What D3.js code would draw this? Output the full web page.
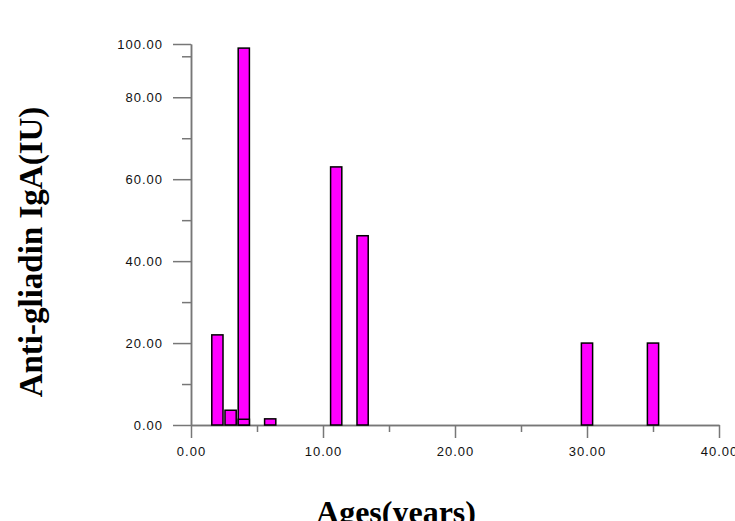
<!DOCTYPE html>
<html lang="en">
<head>
<meta charset="UTF-8"/>
<title>Anti-gliadin IgA by age</title>
<script src="https://d3js.org/d3.v7.min.js"></script>
<style>
    body { margin: 0; background: #fff; }
    .tick text { font-family: "Liberation Sans", Arial, sans-serif; font-size: 13px; letter-spacing: 1px; fill: #111; }
    .axis path, .axis line { stroke: #777; stroke-width: 1.5px; }
    .title { font-family: "Liberation Serif", "Times New Roman", serif; font-weight: bold; fill: #000; }
</style>
</head>
<body>
<svg width="735" height="521"></svg>
<script>
// data (drawn in this order, so small bars sit on top)
const ages   = [2, 3, 4, 4, 6, 11, 13, 30, 35];
const values = [22, 3.6, 92, 1.4, 1.5, 63, 46.2, 20, 20];

const xMajor = [0, 10, 20, 30, 40];
const xMinor = [5, 15, 25, 35];
const xLabels = ["0.00", "10.00", "20.00", "30.00", "40.00"];

const yTop = 93;   // axis ends here, but the top label reads 100.00
const yMajor = [0, 20, 40, 60, 80, yTop];
const yMinor = [10, 30, 50, 70, 90];
const yLabels = ["0.00", "20.00", "40.00", "60.00", "80.00", "100.00"];

const barWidth = 0.85;

let svg = d3.select("svg");

let x = d3.scaleLinear().domain([0, 40]).range([191, 719]);
let y = d3.scaleLinear().domain([0, yTop]).range([425, 44]);

// y axis
svg.append("g").attr("class", "axis")
    .attr("transform", "translate(" + x(0) + ",0)")
    .call(d3.axisLeft(y).tickValues(yMinor).tickSize(9).tickSizeOuter(0).tickFormat(""));
svg.append("g").attr("class", "axis")
    .attr("transform", "translate(" + x(0) + ",0)")
    .call(d3.axisLeft(y).tickValues(yMajor).tickSize(18).tickSizeOuter(0).tickPadding(10)
        .tickFormat((d, i) => yLabels[i]));

// x axis
svg.append("g").attr("class", "axis")
    .attr("transform", "translate(0," + y(0) + ")")
    .call(d3.axisBottom(x).tickValues(xMinor).tickSize(7).tickSizeOuter(0).tickFormat(""));
svg.append("g").attr("class", "axis")
    .attr("transform", "translate(0," + y(0) + ")")
    .call(d3.axisBottom(x).tickValues(xMajor).tickSize(13).tickSizeOuter(0).tickPadding(9)
        .tickFormat((d, i) => xLabels[i]));

svg.selectAll(".axis .domain").attr("stroke", "#777");

// bars
svg.append("g").selectAll("rect")
    .data(ages.map((a, i) => ({age: a, value: values[i]})))
    .enter().append("rect")
    .attr("x", d => x(d.age - barWidth / 2))
    .attr("width", x(barWidth) - x(0))
    .attr("y", d => y(d.value))
    .attr("height", d => y(0) - y(d.value))
    .attr("fill", "#ff00ff")
    .attr("stroke", "#000")
    .attr("stroke-width", 1.5);

// titles
svg.append("text").attr("class", "title")
    .attr("transform", "translate(42,252) rotate(-90)")
    .attr("text-anchor", "middle")
    .style("font-size", "33px")
    .text("Anti-gliadin IgA(IU)");

svg.append("text").attr("class", "title")
    .attr("x", 396).attr("y", 523)
    .attr("text-anchor", "middle")
    .style("font-size", "32px")
    .text("Ages(years)");
</script>
</body>
</html>
